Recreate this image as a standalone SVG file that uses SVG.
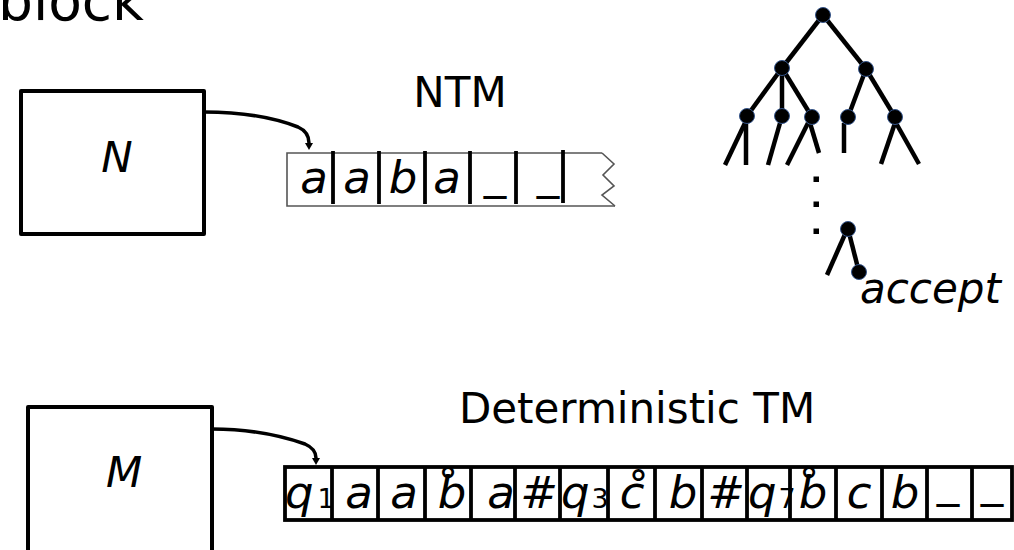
<svg xmlns="http://www.w3.org/2000/svg" width="1014" height="550" viewBox="0 0 1014 550">
<defs>
<style>
text{font-family:"DejaVu Sans","Liberation Sans",sans-serif;fill:#000}
.it{font-style:italic}
.big{font-size:42px}
.cell{font-size:45px;font-style:italic;text-anchor:middle}
.sub{font-size:27px;font-style:normal}
.box{fill:#fff;stroke:#000;stroke-width:4;stroke-linejoin:round}
.div{stroke:#000;stroke-width:3.8}
.thin{fill:none;stroke:#555;stroke-width:1.6}
.edge{stroke:#000;stroke-width:4.5;stroke-linecap:butt;fill:none}
.node{fill:#000;stroke:#34548a;stroke-width:1}
.conn{fill:none;stroke:#000;stroke-width:3.5}
</style>
</defs>
<rect width="1014" height="550" fill="#fff"/>

<text id="title" x="-2" y="20" style="font-size:55px">block</text>

<g id="N">
<rect class="box" x="21" y="91" width="183" height="143"/>
<text class="it big" x="117" y="172" text-anchor="middle">N</text>
</g>

<g id="M">
<rect class="box" x="28" y="407" width="184" height="150"/>
<text class="it big" x="124" y="487" text-anchor="middle">M</text>
</g>

<g id="connectors">
<path class="conn" d="M204,112 C245,112 275,118 298,127 C307,131 309,137 309,143"/>
<path d="M305,143 L313,143 L309,150 Z" fill="#000"/>
<path class="conn" d="M212,429 C250,429 282,436 305,444 C314,448 316,453 316,458"/>
<path d="M312,458 L320,458 L316,465 Z" fill="#000"/>
</g>

<text id="ntm-label" class="big" x="460" y="107" text-anchor="middle">NTM</text>

<g id="ntm-tape">
<path class="thin" d="M602,153 L287,153 L287,206 L615,206"/>
<polyline class="thin" points="602,153 614,164 603,175 614,186 602,195 615,206"/>
<line class="div" x1="333" y1="151" x2="333" y2="204"/>
<line class="div" x1="379" y1="151" x2="379" y2="204"/>
<line class="div" x1="425" y1="151" x2="425" y2="204"/>
<line class="div" x1="470" y1="151" x2="470" y2="204"/>
<line class="div" x1="516" y1="151" x2="516" y2="204"/>
<line class="div" x1="563" y1="150" x2="563" y2="203"/>
<text class="cell" x="314" y="193">a</text>
<text class="cell" x="357" y="193">a</text>
<text class="cell" x="403" y="193">b</text>
<text class="cell" x="447" y="193">a</text>
<text class="cell" x="495" y="188">_</text>
<text class="cell" x="548" y="188">_</text>
</g>

<g id="tree">
<g class="edges">
<line class="edge" x1="823" y1="15" x2="782" y2="68"/>
<line class="edge" x1="823" y1="15" x2="866" y2="69"/>
<line class="edge" x1="782" y1="68" x2="747" y2="116"/>
<line class="edge" x1="782" y1="68" x2="782" y2="116"/>
<line class="edge" x1="782" y1="68" x2="812" y2="117"/>
<line class="edge" x1="866" y1="69" x2="848" y2="117"/>
<line class="edge" x1="866" y1="69" x2="895" y2="117"/>
<line class="edge" x1="745" y1="123" x2="725" y2="165"/>
<line class="edge" x1="746" y1="123" x2="746" y2="165"/>
<line class="edge" x1="780" y1="123" x2="768" y2="165"/>
<line class="edge" x1="808" y1="123" x2="787" y2="165"/>
<line class="edge" x1="810" y1="123" x2="819" y2="153"/>
<line class="edge" x1="844" y1="123" x2="844" y2="153"/>
<line class="edge" x1="895" y1="123" x2="881" y2="164"/>
<line class="edge" x1="896" y1="123" x2="919" y2="164"/>
<line class="edge" x1="846" y1="232" x2="827" y2="275"/>
<line class="edge" x1="848" y1="229" x2="859" y2="272"/>
</g>
<rect x="813.5" y="176.5" width="5.5" height="5.5"/>
<rect x="813.5" y="201.5" width="5.5" height="5.5"/>
<rect x="813.5" y="228.5" width="5.5" height="5.5"/>
<circle class="node" cx="823" cy="15" r="7.5"/>
<circle class="node" cx="782" cy="68" r="7.5"/>
<circle class="node" cx="866" cy="69" r="7.5"/>
<circle class="node" cx="747" cy="116" r="7.5"/>
<circle class="node" cx="782" cy="116" r="7.5"/>
<circle class="node" cx="812" cy="117" r="7.5"/>
<circle class="node" cx="848" cy="117" r="7.5"/>
<circle class="node" cx="895" cy="117" r="7.5"/>
<circle class="node" cx="848" cy="229" r="7.5"/>
<circle class="node" cx="859" cy="272" r="7.5"/>
<text class="it big" x="860" y="303">accept</text>
</g>

<text id="dtm-label" class="big" x="637" y="423" text-anchor="middle">Deterministic TM</text>

<g id="dtm-tape">
<rect x="285" y="467" width="727" height="53" fill="none" stroke="#000" stroke-width="3.8"/>
<g class="divs">
<line class="div" x1="332" y1="467" x2="332" y2="520"/>
<line class="div" x1="378" y1="467" x2="378" y2="520"/>
<line class="div" x1="425" y1="467" x2="425" y2="520"/>
<line class="div" x1="471" y1="467" x2="471" y2="520"/>
<line class="div" x1="515" y1="467" x2="515" y2="520"/>
<line class="div" x1="560" y1="467" x2="560" y2="520"/>
<line class="div" x1="608" y1="467" x2="608" y2="520"/>
<line class="div" x1="655" y1="467" x2="655" y2="520"/>
<line class="div" x1="702" y1="467" x2="702" y2="520"/>
<line class="div" x1="747" y1="467" x2="747" y2="520"/>
<line class="div" x1="790" y1="467" x2="790" y2="520"/>
<line class="div" x1="836" y1="467" x2="836" y2="520"/>
<line class="div" x1="882" y1="467" x2="882" y2="520"/>
<line class="div" x1="927" y1="467" x2="927" y2="520"/>
<line class="div" x1="972" y1="467" x2="972" y2="520"/>
</g>
<text class="cell" x="285" y="508" style="text-anchor:start">q<tspan class="sub" dx="4">1</tspan></text>
<text class="cell" x="359" y="508">a</text>
<text class="cell" x="404" y="508">a</text>
<text class="cell" x="452" y="508">b̊</text>
<text class="cell" x="501" y="508">a</text>
<text class="cell" x="539" y="508">#</text>
<text class="cell" x="561" y="508" style="text-anchor:start">q<tspan class="sub" dx="2">3</tspan></text>
<text class="cell" x="632" y="508">c̊</text>
<text class="cell" x="683" y="508">b</text>
<text class="cell" x="726" y="508">#</text>
<text class="cell" x="748" y="508" style="text-anchor:start">q<tspan class="sub" dx="2">7</tspan></text>
<text class="cell" x="813" y="508">b̊</text>
<text class="cell" x="859" y="508">c</text>
<text class="cell" x="905" y="508">b</text>
<text class="cell" x="948" y="496">_</text>
<text class="cell" x="992" y="496">_</text>
</g>
</svg>
